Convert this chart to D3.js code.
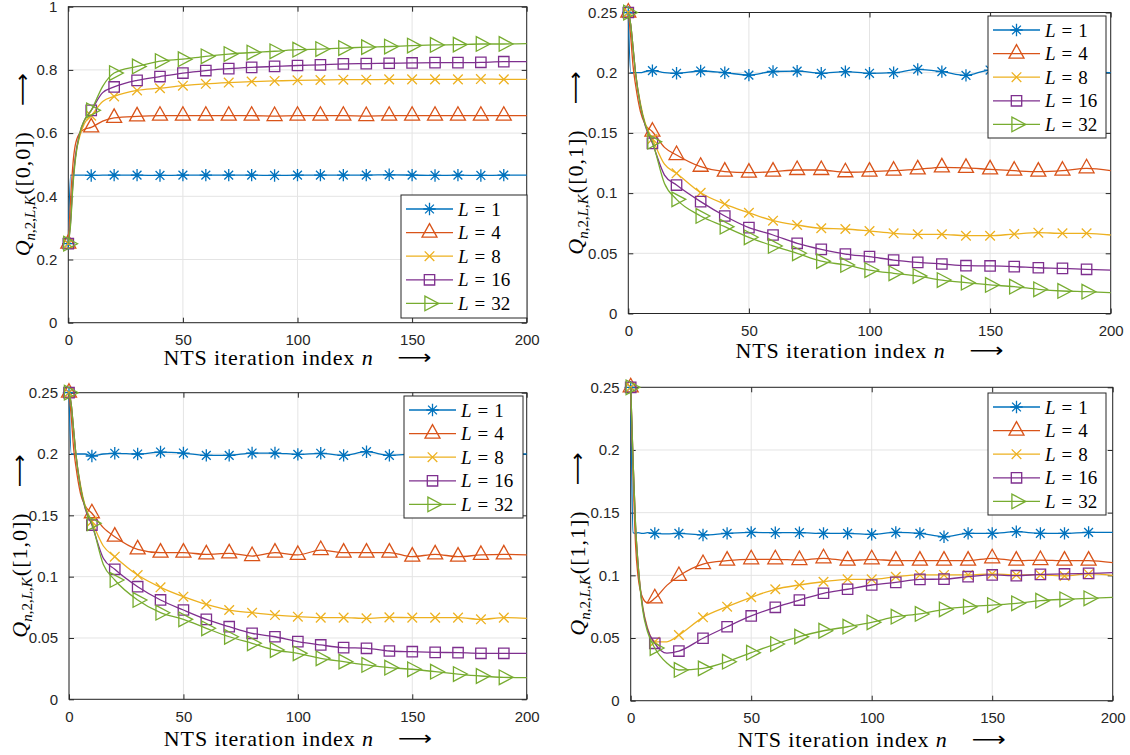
<!DOCTYPE html>
<html><head><meta charset="utf-8">
<script src="https://cdn.jsdelivr.net/npm/d3@7"></script>
<style>body{margin:0;background:#fff}svg{display:block}</style>
</head><body>
<svg id="c" width="1130" height="755"></svg>
<script>
// ---------------- data ----------------
const iterations = [0,1,2,3,5,7,10,15,20,30,40,50,60,70,80,90,100,110,120,130,140,150,160,170,180,190,200];
const listSizes = [1,4,8,16,32];
const stateLabels = ["[0,0]","[0,1]","[1,0]","[1,1]"];
const xTicks = [0,50,100,150,200];
const yTicksWide = [0,0.2,0.4,0.6,0.8,1];
const yTicksNarrow = [0,0.05,0.1,0.15,0.2,0.25];

const q00_L1 = [0.25,0.467,0.467,0.467,0.467,0.467,0.466,0.467,0.467,0.467,0.466,0.467,0.467,0.467,0.467,0.466,0.467,0.467,0.467,0.467,0.468,0.467,0.466,0.467,0.466,0.467,0.467];
const q00_L4 = [0.25,0.39,0.5,0.56,0.6,0.612,0.618,0.638,0.648,0.653,0.655,0.655,0.655,0.655,0.655,0.654,0.655,0.655,0.655,0.654,0.655,0.655,0.655,0.655,0.655,0.655,0.655];
const q00_L8 = [0.25,0.33,0.45,0.52,0.59,0.63,0.655,0.7,0.716,0.735,0.742,0.75,0.756,0.76,0.763,0.765,0.767,0.768,0.769,0.769,0.77,0.77,0.77,0.77,0.771,0.77,0.77];
const q00_L16 = [0.25,0.32,0.44,0.52,0.6,0.64,0.672,0.728,0.746,0.767,0.779,0.79,0.798,0.804,0.808,0.811,0.814,0.816,0.819,0.82,0.821,0.822,0.823,0.823,0.824,0.826,0.826];
const q00_L32 = [0.25,0.31,0.43,0.51,0.6,0.64,0.672,0.748,0.79,0.811,0.828,0.834,0.843,0.85,0.855,0.859,0.864,0.866,0.869,0.872,0.874,0.877,0.879,0.88,0.882,0.882,0.883];

const q01_L1 = [0.25,0.2,0.2,0.2,0.2,0.201,0.2017,0.2,0.1995,0.2014,0.2,0.198,0.201,0.2013,0.1995,0.2009,0.1995,0.2,0.2028,0.2009,0.1978,0.2022,0.2,0.201,0.1995,0.2005,0.2];
const q01_L4 = [0.25,0.23,0.205,0.19,0.168,0.157,0.151,0.138,0.1316,0.1219,0.1178,0.117,0.1178,0.1192,0.1192,0.1173,0.1178,0.1186,0.1197,0.1214,0.121,0.1197,0.1186,0.1178,0.1186,0.1206,0.1186];
const q01_L8 = [0.25,0.24,0.22,0.2,0.175,0.158,0.145,0.124,0.1164,0.1003,0.0909,0.0837,0.0771,0.0735,0.0708,0.0702,0.0685,0.0666,0.0658,0.0658,0.0646,0.0646,0.066,0.0671,0.0666,0.0666,0.0652];
const q01_L16 = [0.25,0.24,0.22,0.2,0.173,0.156,0.1413,0.115,0.1067,0.0929,0.081,0.0713,0.0652,0.0583,0.0533,0.0494,0.0472,0.0444,0.0425,0.0411,0.0397,0.0395,0.0389,0.038,0.0375,0.0367,0.0361];
const q01_L32 = [0.25,0.24,0.22,0.2,0.173,0.157,0.1427,0.108,0.0948,0.081,0.0721,0.0633,0.0561,0.05,0.0435,0.0403,0.0361,0.0334,0.0311,0.0278,0.0256,0.0237,0.0223,0.0201,0.0187,0.0181,0.0173];

const q10_L1 = [0.25,0.2,0.2,0.2,0.2,0.2,0.1984,0.2,0.2006,0.2,0.2016,0.2008,0.1989,0.1989,0.2008,0.2008,0.1997,0.2006,0.1989,0.2019,0.1989,0.2,0.2005,0.1995,0.2005,0.2,0.2];
const q10_L4 = [0.25,0.23,0.205,0.19,0.168,0.158,0.1517,0.14,0.1326,0.1223,0.1196,0.1196,0.1182,0.119,0.1168,0.1196,0.1177,0.1217,0.1196,0.1196,0.1196,0.1163,0.1182,0.1163,0.1177,0.1182,0.1177];
const q10_L8 = [0.25,0.24,0.22,0.2,0.175,0.158,0.145,0.125,0.1163,0.1013,0.0913,0.0837,0.0774,0.0728,0.0706,0.0687,0.0674,0.0666,0.0666,0.066,0.0668,0.0666,0.0666,0.0666,0.0652,0.0666,0.066];
const q10_L16 = [0.25,0.24,0.22,0.2,0.173,0.156,0.1421,0.115,0.106,0.0918,0.081,0.0728,0.0652,0.0592,0.0538,0.051,0.047,0.0443,0.0421,0.0416,0.0394,0.0388,0.0383,0.038,0.0375,0.0375,0.0375];
const q10_L32 = [0.25,0.24,0.22,0.2,0.173,0.157,0.1435,0.11,0.0973,0.081,0.0706,0.0652,0.0579,0.051,0.0457,0.0402,0.0375,0.0334,0.0307,0.028,0.0258,0.0245,0.0225,0.0206,0.019,0.0179,0.0176];

const q11_L1 = [0.25,0.134,0.1335,0.134,0.1335,0.134,0.1335,0.133,0.1335,0.1322,0.1335,0.1343,0.134,0.134,0.1335,0.1335,0.1327,0.1343,0.1335,0.1308,0.1335,0.1335,0.1348,0.1335,0.1335,0.1343,0.1343];
const q11_L4 = [0.25,0.18,0.125,0.1,0.082,0.078,0.0817,0.092,0.0995,0.109,0.1117,0.1128,0.1128,0.1122,0.1136,0.1117,0.1128,0.1117,0.1117,0.1117,0.1117,0.1136,0.1117,0.1122,0.1117,0.1117,0.1101];
const q11_L8 = [0.25,0.19,0.14,0.11,0.075,0.058,0.047,0.047,0.0524,0.0665,0.075,0.0825,0.0889,0.0923,0.0949,0.0968,0.0968,0.0989,0.1003,0.1003,0.1003,0.1011,0.1003,0.1003,0.0995,0.1011,0.1];
const q11_L16 = [0.25,0.19,0.14,0.11,0.074,0.057,0.0458,0.038,0.0396,0.0498,0.059,0.0676,0.0745,0.0803,0.0857,0.0889,0.0923,0.0944,0.0968,0.097,0.0989,0.1003,0.0997,0.1008,0.1011,0.1016,0.1021];
const q11_L32 = [0.25,0.19,0.14,0.11,0.072,0.055,0.042,0.03,0.0245,0.0258,0.0311,0.0383,0.0452,0.0511,0.0558,0.059,0.0625,0.067,0.0692,0.0729,0.075,0.0763,0.0777,0.0798,0.0809,0.0817,0.0825];

// ---------------- styles / layout ----------------
const colors = ["#0072BD","#D95319","#EDB120","#7E2F8E","#77AC30"];
const markerTypes = ["asterisk","triUp","cross","square","triRight"];
const axisColor = "#262626";
const gridColor = "#e4e4e4";
const sansFont = "'Liberation Sans', Arial, Helvetica, sans-serif";
const serifFont = "'Liberation Serif', 'Times New Roman', serif";
const arrowFont = "'DejaVu Sans', sans-serif";

const panels = [
  {state: stateLabels[0], series: [q00_L1,q00_L4,q00_L8,q00_L16,q00_L32], yMax: 1, yTicks: yTicksWide,
   box: {x0: 68.3, x1: 526.7, y0: 6.7, y1: 322.7}, legend: {x: 401, y: 195, w: 126, h: 123}, ylabX: 23, xlabDy: 42},
  {state: stateLabels[1], series: [q01_L1,q01_L4,q01_L8,q01_L16,q01_L32], yMax: 0.25, yTicks: yTicksNarrow,
   box: {x0: 628.3, x1: 1110.7, y0: 12.5, y1: 313.5}, legend: {x: 988, y: 16, w: 118, h: 122}, ylabX: 576, xlabDy: 44},
  {state: stateLabels[2], series: [q10_L1,q10_L4,q10_L8,q10_L16,q10_L32], yMax: 0.25, yTicks: yTicksNarrow,
   box: {x0: 69, x1: 526.7, y0: 392.7, y1: 699.3}, legend: {x: 404, y: 396, w: 119, h: 122}, ylabX: 20, xlabDy: 47},
  {state: stateLabels[3], series: [q11_L1,q11_L4,q11_L8,q11_L16,q11_L32], yMax: 0.25, yTicks: yTicksNarrow,
   box: {x0: 630.7, x1: 1112.7, y0: 387.3, y1: 700.7}, legend: {x: 988, y: 393, w: 118, h: 122}, ylabX: 578, xlabDy: 46}
];

const svg = d3.select("#c");

function markerPath(type) {
  switch (type) {
    case "asterisk": { const r = 6.2, d = 4.4;
      return `M${-r},0H${r}M0,${-r}V${r}M${-d},${-d}L${d},${d}M${-d},${d}L${d},${-d}`; }
    case "triUp": return "M0,-9L7.5,4.5L-7.5,4.5Z";
    case "cross": { const r = 4.8; return `M${-r},${-r}L${r},${r}M${-r},${r}L${r},${-r}`; }
    case "square": return "M-5.2,-5.2H5.2V5.2H-5.2Z";
    case "triRight": return "M-4.6,-7.3L9.2,0L-4.6,7.3Z";
  }
}

function fmtTick(v) { return String(+v.toFixed(2)); }

panels.forEach(p => {
  const b = p.box;
  const x = d3.scaleLinear().domain([0, 200]).range([b.x0, b.x1]);
  const y = d3.scaleLinear().domain([0, p.yMax]).range([b.y1, b.y0]);
  const g = svg.append("g");

  // grid
  g.selectAll(".gx").data(xTicks).join("line")
    .attr("x1", d => x(d)).attr("x2", d => x(d)).attr("y1", b.y0).attr("y2", b.y1)
    .attr("stroke", gridColor).attr("stroke-width", 1);
  g.selectAll(".gy").data(p.yTicks).join("line")
    .attr("x1", b.x0).attr("x2", b.x1).attr("y1", d => y(d)).attr("y2", d => y(d))
    .attr("stroke", gridColor).attr("stroke-width", 1);

  // axes via d3 axis generators (inward ticks, all four sides)
  const tl = 5;
  const axB = d3.axisBottom(x).tickValues(xTicks).tickSize(-tl).tickPadding(tl + 7).tickFormat(fmtTick);
  const axT = d3.axisTop(x).tickValues(xTicks).tickSize(-tl).tickFormat("");
  const axL = d3.axisLeft(y).tickValues(p.yTicks).tickSize(-tl).tickPadding(tl + 6).tickFormat(fmtTick);
  const axR = d3.axisRight(y).tickValues(p.yTicks).tickSize(-tl).tickFormat("");
  const styleAxis = sel => {
    sel.select(".domain").remove();
    sel.selectAll("line").attr("stroke", axisColor).attr("stroke-width", 1);
    sel.selectAll("text").attr("fill", axisColor).attr("font-family", sansFont).style("font-family", sansFont).style("font-size", "15px");
  };
  g.append("g").attr("transform", `translate(0,${b.y1})`).call(axB).call(styleAxis);
  g.append("g").attr("transform", `translate(0,${b.y0})`).call(axT).call(styleAxis);
  g.append("g").attr("transform", `translate(${b.x0},0)`).call(axL).call(styleAxis);
  g.append("g").attr("transform", `translate(${b.x1},0)`).call(axR).call(styleAxis);
  g.append("rect").attr("x", b.x0).attr("y", b.y0).attr("width", b.x1 - b.x0).attr("height", b.y1 - b.y0)
    .attr("fill", "none").attr("stroke", axisColor).attr("stroke-width", 1);

  // series
  const line = d3.line().x(d => x(d.n)).y(d => y(d.v)).curve(d3.curveMonotoneX);
  p.series.forEach((vals, i) => {
    const pts = iterations.map((n, k) => ({n, v: vals[k]}));
    const sg = g.append("g");
    sg.append("path").datum(pts).attr("d", line).attr("fill", "none")
      .attr("stroke", colors[i]).attr("stroke-width", 1.3).attr("stroke-linejoin", "round");
    sg.selectAll("path.m").data(pts.filter(d => d.n % 10 === 0 && d.n < 200)).join("path")
      .attr("class", "m")
      .attr("transform", d => `translate(${x(d.n)},${y(d.v)})`)
      .attr("d", markerPath(markerTypes[i]))
      .attr("fill", "none").attr("stroke", colors[i]).attr("stroke-width", 1.3);
  });

  // x label: text + stretched long arrow, centred on the axis
  const xlY = b.y1 + p.xlabDy;
  const xl = g.append("text").attr("y", xlY)
    .attr("font-family", serifFont).style("font-family", serifFont).style("font-size", "22px")
    .style("letter-spacing", "0.9px").attr("fill", "#000");
  xl.append("tspan").attr("font-family", serifFont).text("NTS iteration index ");
  xl.append("tspan").attr("font-family", serifFont).style("font-style", "italic").text("n");
  const xlLen = xl.node().getComputedTextLength();
  const arrowLen = 34, arrowGap = 24;
  const xStart = (b.x0 + b.x1) / 2 - (xlLen + arrowGap + arrowLen) / 2;
  xl.attr("x", xStart);
  g.append("text").attr("x", xStart + xlLen + arrowGap).attr("y", xlY - 1)
    .attr("font-family", arrowFont).style("font-size", "20px").attr("fill", "#000")
    .attr("textLength", arrowLen).attr("lengthAdjust", "spacingAndGlyphs").text("\u27F6");

  // y label (rotated): Q_{n,2,L,K}([s]) + long arrow
  const yc = (b.y0 + b.y1) / 2;
  const yg = g.append("g").attr("transform", `translate(${p.ylabX + 7},${yc}) rotate(-90)`);
  const yl = yg.append("text").attr("font-family", serifFont).style("font-family", serifFont)
    .style("font-size", "22px").attr("fill", "#000");
  yl.append("tspan").style("font-style", "italic").text("Q");
  const sub = yl.append("tspan").attr("dy", 5).style("font-size", "15px");
  sub.append("tspan").style("font-style", "italic").text("n");
  sub.append("tspan").text(",2,");
  sub.append("tspan").style("font-style", "italic").text("L");
  sub.append("tspan").text(",");
  sub.append("tspan").style("font-style", "italic").text("K");
  yl.append("tspan").attr("dy", -5).attr("dx", 1).style("letter-spacing", "1px").text("(" + p.state + ")");
  const ylLen = yl.node().getComputedTextLength();
  const yArrowLen = 33, yArrowGap = 26;
  const yStart = -(ylLen + yArrowGap + yArrowLen) / 2;
  yl.attr("x", yStart);
  yg.append("text").attr("x", yStart + ylLen + yArrowGap).attr("y", -1)
    .attr("font-family", arrowFont).style("font-size", "20px").attr("fill", "#000")
    .attr("textLength", yArrowLen).attr("lengthAdjust", "spacingAndGlyphs").text("\u27F6");

  // legend
  const L = p.legend;
  const lg = g.append("g");
  lg.append("rect").attr("x", L.x).attr("y", L.y).attr("width", L.w).attr("height", L.h)
    .attr("fill", "#fff").attr("stroke", axisColor).attr("stroke-width", 1);
  listSizes.forEach((s, i) => {
    const cy = L.y + 14 + i * 23.6;
    lg.append("line").attr("x1", L.x + 5).attr("x2", L.x + 52).attr("y1", cy).attr("y2", cy)
      .attr("stroke", colors[i]).attr("stroke-width", 1.3);
    lg.append("path").attr("transform", `translate(${L.x + 28.5},${cy})`).attr("d", markerPath(markerTypes[i]))
      .attr("fill", "none").attr("stroke", colors[i]).attr("stroke-width", 1.3);
    const t = lg.append("text").attr("x", L.x + 57).attr("y", cy + 6.5)
      .attr("font-family", serifFont).style("font-family", serifFont).style("font-size", "19px").attr("fill", "#000");
    t.append("tspan").style("font-style", "italic").text("L");
    t.append("tspan").attr("dx", 6).text("=");
    t.append("tspan").attr("dx", 6).text(String(s));
  });
});
</script>
</body></html>
